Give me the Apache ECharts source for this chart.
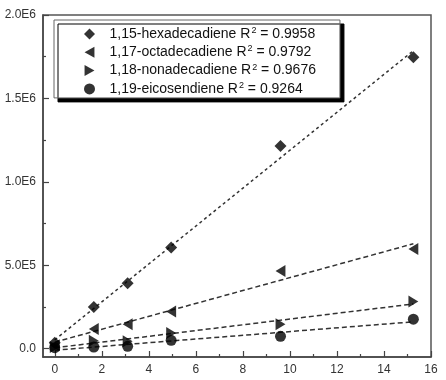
<!DOCTYPE html>
<html>
<head>
<meta charset="utf-8">
<script src="https://cdn.jsdelivr.net/npm/echarts@6/dist/echarts.min.js"></script>
<style>
html,body{margin:0;padding:0;background:#fff;}
#c{width:446px;height:380px;}
</style>
</head>
<body>
<div id="c"></div>
<script>
// ---- data ----
const xValues = [0, 1.66, 3.1, 4.95, 9.6, 15.25];
const seriesNames = ['1,15-hexadecadiene', '1,17-octadecadiene', '1,18-nonadecadiene', '1,19-eicosendiene'];
const rSquared = ['0.9958', '0.9792', '0.9676', '0.9264'];
const hexadecadiene = [3.5e4, 2.5e5, 3.92e5, 6.07e5, 1.215e6, 1.746e6];
const octadecadiene = [2.0e4, 1.18e5, 1.47e5, 2.23e5, 4.66e5, 5.97e5];
const nonadecadiene = [1.0e4, 4.8e4, 4.4e4, 9.4e4, 1.47e5, 2.83e5];
const eicosendiene = [6e3, 1.0e4, 1.4e4, 5.0e4, 7.4e4, 1.77e5];
const xTickLabels = [0, 2, 4, 6, 8, 10, 12, 14, 16];
const xMinorTicks = [1, 3, 5, 7, 9, 11, 13, 15];
const yTickLabels = [0, 5e5, 1e6, 1.5e6, 2e6];
const yMinorTicks = [2.5e5, 7.5e5, 1.25e6, 1.75e6];

const allY = [hexadecadiene, octadecadiene, nonadecadiene, eicosendiene];
const diamond = 'path://M5,0L10,5L5,10L0,5Z';
const leftTri = 'path://M0,5L9,0L9,10Z';
const rightTri = 'path://M0,0L9,5L0,10Z';
const symbols = [diamond, leftTri, rightTri, 'circle'];
const sizes = [12, [11, 12], [11, 12], 11];
const dashes = [[3, 3], [5, 3], [5, 3], [5, 3]];

function fit(xs, ys) {
  const n = xs.length;
  let mx = 0, my = 0;
  for (let i = 0; i < n; i++) { mx += xs[i]; my += ys[i]; }
  mx /= n; my /= n;
  let sxy = 0, sxx = 0;
  for (let i = 0; i < n; i++) { sxy += (xs[i] - mx) * (ys[i] - my); sxx += (xs[i] - mx) * (xs[i] - mx); }
  const m = sxy / sxx, b = my - m * mx;
  const x0 = xs[0], x1 = xs[n - 1];
  return [[x0, b + m * x0], [x1, b + m * x1]];
}

const series = [];
allY.forEach((ys, i) => {
  series.push({
    name: seriesNames[i] + '__fit',
    type: 'line',
    data: fit(xValues, ys),
    symbol: 'none',
    silent: true,
    lineStyle: { color: '#333', width: 1.5, type: dashes[i] },
    z: 2
  });
});
allY.forEach((ys, i) => {
  series.push({
    name: seriesNames[i],
    type: 'scatter',
    data: xValues.map((x, j) => [x, ys[j]]),
    symbol: symbols[i],
    symbolSize: sizes[i],
    symbolKeepAspect: true,
    itemStyle: { color: '#000' },
    z: 3
  });
});

const rMap = {};
seriesNames.forEach((n, i) => rMap[n] = rSquared[i]);

function yFmt(v) {
  if (v === 0) return '0.0';
  const e = Math.floor(Math.log10(v));
  return (v / Math.pow(10, e)).toFixed(1) + 'E' + e;
}

const font = '"Liberation Sans", Arial, sans-serif';
const chart = echarts.init(document.getElementById('c'), null, { renderer: 'canvas' });
chart.setOption({
  animation: false,
  backgroundColor: '#ffffff',
  textStyle: { fontFamily: font },
  grid: { left: 43, right: 15, top: 15, bottom: 23, show: true, borderColor: '#555', borderWidth: 1.5, backgroundColor: 'transparent' },
  xAxis: [{
    type: 'value', min: -0.5, max: 16,
    axisLine: { show: true, onZero: false, lineStyle: { color: '#444', width: 1.5 } },
    axisTick: { show: true, inside: true, length: 6, customValues: xTickLabels, lineStyle: { color: '#444', width: 1.2 } },
    axisLabel: { customValues: xTickLabels, margin: 7, color: '#333', fontSize: 12, fontFamily: font },
    splitLine: { show: false }
  }, {
    type: 'value', min: -0.5, max: 16, position: 'bottom',
    axisLine: { show: false, onZero: false },
    axisTick: { show: true, inside: true, length: 3, customValues: xMinorTicks, lineStyle: { color: '#444', width: 1.2 } },
    axisLabel: { show: false },
    splitLine: { show: false }
  }],
  yAxis: [{
    type: 'value', min: -5e4, max: 2e6,
    axisLine: { show: true, onZero: false, lineStyle: { color: '#444', width: 1.5 } },
    axisTick: { show: true, inside: true, length: 6, customValues: yTickLabels, lineStyle: { color: '#444', width: 1.2 } },
    axisLabel: { customValues: yTickLabels, margin: 7, color: '#333', fontSize: 12, fontFamily: font, formatter: yFmt },
    splitLine: { show: false }
  }, {
    type: 'value', min: -5e4, max: 2e6, position: 'left',
    axisLine: { show: false, onZero: false },
    axisTick: { show: true, inside: true, length: 3, customValues: yMinorTicks, lineStyle: { color: '#444', width: 1.2 } },
    axisLabel: { show: false },
    splitLine: { show: false }
  }],
  legend: {
    data: seriesNames.map((n, i) => ({ name: n, icon: symbols[i] })),
    orient: 'vertical',
    left: 54, top: 20,
    padding: [6, 24, 2, 30],
    itemWidth: 30, itemHeight: 11, itemGap: 3.3,
    symbolKeepAspect: true,
    backgroundColor: '#fff',
    borderColor: '#666', borderWidth: 1,
    shadowColor: '#000', shadowBlur: 0, shadowOffsetX: 4, shadowOffsetY: 4,
    textStyle: {
      fontFamily: font, fontSize: 14, color: '#111',
      rich: {
        t: { fontSize: 14, color: '#111', fontFamily: font, lineHeight: 16 },
        s: { fontSize: 9, color: '#111', fontFamily: font, lineHeight: 16, verticalAlign: 'top', padding: [0, 0, 0, 1] }
      }
    },
    formatter: function (name) {
      return '{t|' + name + ' R}{s|2}{t| = ' + rMap[name] + '}';
    },
    z: 10
  },
  series: series
});
</script>
</body>
</html>
